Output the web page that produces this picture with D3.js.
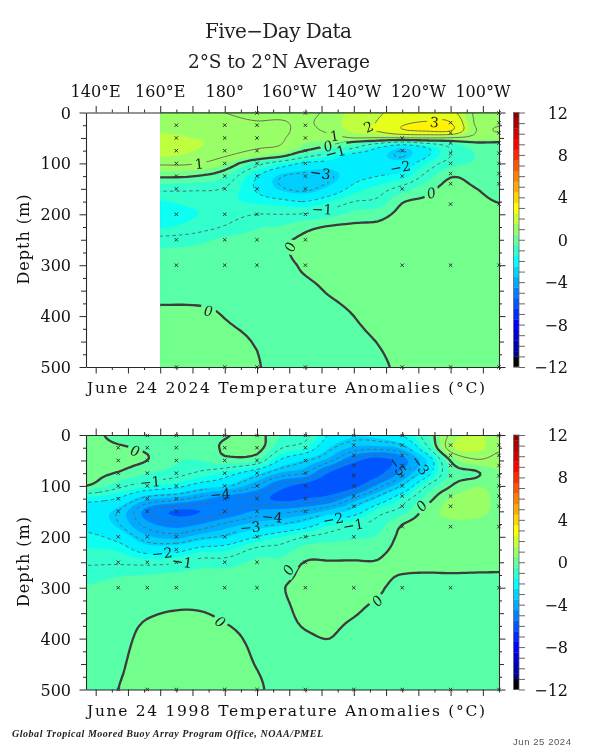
<!DOCTYPE html>
<html><head><meta charset="utf-8">
<script src="https://cdn.jsdelivr.net/npm/d3@7"></script>
<style>html,body{margin:0;background:#fff}svg{display:block;filter:blur(0.45px)}</style>
</head><body><div id="c"></div>
<script>
// ---- data ----
const lonTicks=[140,160,180,200,220,240,260];
const lonTickLabels=["140°E","160°E","180°","160°W","140°W","120°W","100°W"];
const depthTicks=[0,100,200,300,400,500];
const barTicks=[12,8,4,0,-4,-8,-12];

const lons1=[160,170,180,190,197.5,205,212.5,220,227.5,235,242.5,250,257.5,265];
const depths1=[0,20,35,50,60,70,85,100,125,150,175,200,225,250,275,300,350,400,450,500];
const field1=[
[1.1,1.2,1.4,1.65,1.75,1.7,1.55,1.1,.1,-.85,-1.55,-1.75,-1.55,-.8,-.4,-.3,-.12,.08,.15,.2],
[1.05,1.15,1.3,1.5,1.6,1.55,1.4,1.05,.02,-.9,-1.35,-1.55,-1.3,-.7,-.35,-.25,-.15,.12,.3,.3],
[1,1.1,1.2,1.3,1.3,1.25,1.05,.5,-.45,-1.05,-1.4,-1.25,-.95,-.4,-.3,-.25,-.1,-.01,.1,.2],
[.9,1.02,1.1,1.15,1.1,1.03,.55,-.7,-1.95,-2.1,-1.6,-1,-.55,-.3,-.2,-.2,-.15,-.1,-.03,.05],
[.85,1.05,1.1,1.05,1.02,.85,.15,-1.5,-2.95,-2.9,-1.8,-1,-.45,-.1,-.1,-.2,-.3,-.3,-.3,-.3],
[.85,.9,.85,.75,.5,.25,-.75,-2.15,-3.2,-3.15,-2,-.95,-.15,.1,.2,.1,-.15,-.25,-.3,-.3],
[1.15,1.3,1.15,.75,.3,-.3,-1.4,-2.35,-3.1,-2.6,-1.5,-.7,.05,.15,.2,.2,.05,-.2,-.3,-.3],
[1.7,1.7,1.65,1,-.25,-1,-2.4,-2.5,-2.3,-1.75,-1,-.35,.1,.15,.2,.2,.2,0,-.2,-.3],
[1.9,2.05,2.1,.95,-.85,-2.05,-2.6,-2.4,-2,-1.3,-.85,-.2,.1,.15,.2,.2,.25,.25,.02,-.1],
[2.4,2.85,2.9,.95,-1.4,-2.8,-3.05,-2.5,-1.75,-.75,-.05,.15,.2,.2,.2,.25,.25,.25,.2,.1],
[2.6,3.05,3.15,1,-.9,-2.1,-2.1,-1.45,-.8,-.2,.1,.2,.2,.2,.2,.25,.25,.25,.25,.25],
[2.3,3.02,3.1,.95,-.5,-.98,-1,-.7,-.05,.2,.25,.25,.25,.25,.25,.25,.25,.25,.25,.25],
[.9,.95,1.05,.8,-.1,-.4,-.5,-.45,-.2,.02,.15,.25,.25,.25,.25,.25,.25,.25,.25,.25],
[.75,.9,1.05,.7,-.1,-.3,-.35,-.35,-.3,-.2,-.02,.15,.2,.2,.2,.2,.2,.2,.2,.2]];

const lons2=[137,147,156,165,172.5,180,190,197.5,205,212.5,220,227.5,235,242.5,250,257.5,265];
const depths2=[0,25,50,75,100,125,150,175,200,225,250,275,300,350,400,450,500];
const field2=[
[.4,.4,.35,.2,0,-1.7,-2.4,-2.3,-1.8,-1.45,-1.1,-.7,-.45,-.3,-.2,-.2,-.2],
[-.3,.1,.2,-.05,-.8,-2.05,-3,-2.95,-2.3,-1.6,-1.1,-.55,-.35,-.2,-.15,-.08,0],
[-.4,-.1,0,-.5,-1.4,-3.3,-4.8,-4.3,-3.4,-2.4,-1.2,-.5,-.3,-.05,.15,.25,.25],
[-.3,-.35,-.45,-.75,-1.75,-3.7,-5.6,-4.8,-3.7,-2.3,-1.1,-.4,-.25,.03,.25,.3,.3],
[-.2,-.3,-.5,-1.15,-2.4,-4.3,-5.5,-4.5,-3.2,-1.75,-.75,-.35,-.2,.02,.3,.3,.3],
[-.05,.08,-.2,-1.6,-2.8,-4.9,-5.1,-3.9,-2.85,-1.6,-.75,-.3,-.15,-.08,.15,.3,.25],
[.2,.25,-.5,-2.6,-4,-5.2,-4.4,-3.3,-2,-.85,-.4,-.2,-.2,-.2,-.12,-.03,.12],
[-.5,-.95,-2.15,-3.6,-5.2,-5.7,-4.2,-3,-1.5,-.75,-.4,-.25,-.05,-.2,-.3,-.3,-.3],
[-.8,-1.4,-2.9,-4,-5.8,-5.5,-3.9,-2.5,-1,-.3,.02,.2,.3,.2,-.1,-.3,-.3],
[-2.1,-2.8,-3.8,-5.6,-6.2,-5.1,-3.3,-1.6,-.75,-.25,.03,.25,.3,.2,0,-.25,-.3],
[-2.7,-3.6,-5.2,-6.5,-5.8,-3.9,-2.5,-1.1,-.6,-.2,.03,.2,.3,.05,-.25,-.3,-.3],
[-2.6,-3.7,-5.9,-5.8,-4.3,-2.7,-1.3,-.75,-.45,-.15,.03,.15,.1,-.2,-.3,-.3,-.3],
[-2,-3.3,-4.9,-4.2,-2.9,-1.4,-.75,-.02,.15,.2,.25,-.02,-.25,-.35,-.35,-.35,-.35],
[-.6,-1.2,-2.8,-2.4,-1,-.3,.2,.3,.3,.3,.2,-.05,-.3,-.35,-.35,-.35,-.35],
[1.15,1.35,.05,-.4,-.02,.55,.65,.4,.35,.35,.3,-.05,-.35,-.35,-.35,-.35,-.35],
[1.55,1.7,.9,-.12,.45,.7,.65,.4,.35,.3,.2,-.05,-.3,-.35,-.35,-.35,-.35],
[1.3,1.1,.75,.45,.4,.4,.4,.35,.3,.25,.15,-.05,-.3,-.35,-.35,-.35,-.35]];

const moorings1=[
[165,[25,50,75,100,125,150,200,250,300,500]],
[180,[25,50,75,100,125,150,200,250,300,500]],
[190,[1,25,50,75,100,125,150,200,250,300,500]],
[205,[1,25,50,75,100,125,150,200,250,300,500]],
[235,[50,75,125,150,300,500]],
[250,[20,40,60,80,100,120,140,180,300,500]],
[265,[1,20,40,60,80,100,120,140,180,300,500]]];
const moorings2=[
[147,[25,50,75,100,125,150,200,250,300,500]],
[156,[1,25,50,75,100,125,150,200,250,300,500]],
[165,[1,25,50,75,100,125,150,200,225,250,300,500]],
[180,[1,25,50,75,100,125,150,200,250,300,500]],
[190,[1,25,50,75,100,125,150,200,250,300,500]],
[205,[1,25,50,75,100,125,150,200,250,300,500]],
[220,[1,20,40,60,80,100,120,140,200,300,500]],
[235,[1,20,40,60,80,100,120,140,180,300,500]],
[250,[20,40,60,80,120,140,180,300,500]],
[265,[1,20,40,60,80,100,120,140,180,300,500]]];

const contourLabels1=[
[172.1,101,"1",-6],[214,46,"1",-8],[212,66,"0",-20],[214.3,78,"−1",-15],[224.5,28,"2",-25],
[245,19,"3",5],[234.4,107,"−2",-10],[209.6,119,"−3",8],[210.2,190,"−1",3],
[244,158,"0",-15],[200.3,264,"0",-72],[174.9,390,"0",5]];
const contourLabels2=[
[152.2,31,"0",15],[156.9,92,"−1",-5],[178.6,116,"−4",-5],[166.8,249,"−1",8],[160.6,232,"−2",-5],
[187.9,181,"−3",-5],[194.7,161,"−4",5],[199.7,265,"0",-60],[178.6,367,"0",35],
[233.5,61,"−5",55],[240.6,59,"−3",55],[241,139,"0",-50],[213.6,165,"−2",-10],[219.8,177,"−1",-10],[227.3,326,"0",-50]];

const lineLevels1=[-3,-2,-1,0,1,2,3];
const lineLevels2=[-5,-4,-3,-2,-1,0,1];
const fillBreaks=[-12,-11,-10.5,-9.5,-8.5,-7.5,-6.5,-5.5,-4.5,-3.5,-2.8,-2,-1.5,-.5,0,.5,1.5,2,3,3.5,4.5,5.5,6.5,7.5,8.5,9.5,10.5,11.5];
const barBreaks=[-12,-11,-10.5,-9.5,-8.5,-7.5,-6.5,-5.5,-4.5,-3.5,-2.5,-1.5,-.5,.5,1.5,2.5,3.5,4.5,5.5,6.5,7.5,8.5,9.5,10.5,11.5,12];
const colorStops=[-11,-8,-2,3,9,12];
const colorValues=["#00007f","#0000ff","#00ffff","#ffff00","#ff0000","#7f0000"];

// ---- layout ----
const W=600,H=750,xL=86,xR=499,plotH=254.5;
const panels=[
 {top:112.5,lons:lons1,depths:depths1,field:field1,moor:moorings1,labels:contourLabels1,levels:lineLevels1,title:"June 24 2024 Temperature Anomalies (°C)"},
 {top:435,lons:lons2,depths:depths2,field:field2,moor:moorings2,labels:contourLabels2,levels:lineLevels2,title:"June 24 1998 Temperature Anomalies (°C)"}];
const SERIF='"DejaVu Serif",serif';
const ink="#2a2a2a";
const svg=d3.select("#c").append("svg").attr("width",W).attr("height",H);
const colorOf=d3.scaleLinear().domain(colorStops).range(colorValues).clamp(true);
const bandColor=(a,b)=>a<-11.5?"#000":colorOf((a+b)/2);

// Catmull-Rom drawing refinement of the read grid, so that contours are smooth
function cr(p0,p1,p2,p3,t){return .5*(2*p1+(p2-p0)*t+(2*p0-5*p1+4*p2-p3)*t*t+(3*p1-p0-3*p2+p3)*t*t*t);}
function refine(cols,k){
  const nx=cols.length,ny=cols[0].length,w=(nx-1)*k+1,h=(ny-1)*k+1,out=new Float64Array(w*h);
  const g=(i,j)=>cols[Math.max(0,Math.min(nx-1,i))][Math.max(0,Math.min(ny-1,j))];
  for(let fy=0;fy<h;fy++)for(let fx=0;fx<w;fx++){
    const i=Math.min(nx-2,Math.floor(fx/k)),j=Math.min(ny-2,Math.floor(fy/k)),tx=fx/k-i,ty=fy/k-j;
    const r=[-1,0,1,2].map(dj=>cr(g(i-1,j+dj),g(i,j+dj),g(i+1,j+dj),g(i+2,j+dj),tx));
    out[fy*w+fx]=cr(r[0],r[1],r[2],r[3],ty);
  }
  return {w,h,out};
}
const K=6;
panels.forEach((p,pi)=>{
  const x=d3.scaleLinear().domain([137,265]).range([xL,xR]);
  const y=d3.scaleLinear().domain([0,500]).range([p.top,p.top+plotH]);
  const ixLon=d3.scaleLinear().domain(d3.range(p.lons.length)).range(p.lons);
  const iyDep=d3.scaleLinear().domain(d3.range(p.depths.length)).range(p.depths);
  const r=refine(p.field,K);
  const path=d3.geoPath(d3.geoTransform({point(a,b){
    this.stream.point(x(ixLon((a-.5)/K)),y(iyDep((b-.5)/K)));}}));
  const gen=d3.contours().size([r.w,r.h]).smooth(true);
  const clipId="clip"+pi,maskId="gap"+pi;
  const x0=x(p.lons[0]);
  svg.append("clipPath").attr("id",clipId).append("rect").attr("x",x0).attr("y",p.top).attr("width",xR-x0).attr("height",plotH);
  const g=svg.append("g").attr("clip-path",`url(#${clipId})`);
  fillBreaks.forEach((t,i)=>{
    const next=i+1<fillBreaks.length?fillBreaks[i+1]:12;
    const geom=gen.contour(r.out,i===0?-100:t);
    g.append("path").attr("d",path(geom)).attr("fill",bandColor(t,next)).attr("stroke","none");
  });
  // gaps in the lines behind contour labels
  const mask=svg.append("mask").attr("id",maskId).attr("maskUnits","userSpaceOnUse").attr("x",0).attr("y",0).attr("width",W).attr("height",H);
  mask.append("rect").attr("width",W).attr("height",H).attr("fill","#fff");
  mask.selectAll("rect.g").data(p.labels).join("rect").attr("class","g")
    .attr("x",d=>-(d[2].length*5.5+2)).attr("y",-7.5).attr("width",d=>2*(d[2].length*5.5+2)).attr("height",15).attr("fill","#000")
    .attr("transform",d=>`translate(${x(d[0])},${y(d[1])}) rotate(${d[3]})`);
  const gl=g.append("g").attr("mask",`url(#${maskId})`);
  p.levels.forEach(l=>{
    gl.append("path").attr("d",path(gen.contour(r.out,l))).attr("fill","none")
      .attr("stroke",l===0?"#3c3c3c":l>0?"#6f6f55":"#4e6e72")
      .attr("stroke-width",l===0?2.3:1)
      .attr("stroke-dasharray",l<0?"3.5 3":null);
  });
  // mooring markers
  const mk=svg.append("g").attr("stroke","#333").attr("stroke-width",1).attr("fill","none");
  p.moor.forEach(([lon,ds])=>ds.forEach(d=>{
    const cx=x(lon),cy=y(d);
    mk.append("path").attr("d",`M${cx-1.7},${cy-1.7}L${cx+1.7},${cy+1.7}M${cx-1.7},${cy+1.7}L${cx+1.7},${cy-1.7}`);
  }));
  // contour labels
  svg.append("g").selectAll("text").data(p.labels).join("text")
    .attr("font-family",SERIF).attr("font-size",14).attr("fill","#222").attr("font-style",d=>d[2]==="0"?"italic":"normal")
    .attr("text-anchor","middle").attr("dominant-baseline","central")
    .attr("transform",d=>`translate(${x(d[0])},${y(d[1])}) rotate(${d[3]})`).text(d=>d[2]);
  // axes (D3 axis generators)
  const lonVals=d3.range(140,266,5), depMinor=d3.range(0,501,25);
  const ax=svg.append("g").attr("stroke",ink);
  const drawX=(yy,dir)=>{
    const a=(dir<0?d3.axisTop(x):d3.axisBottom(x)).tickValues(lonVals).tickFormat("").tickSizeOuter(0)
      .tickSizeInner(0);
    const gg=ax.append("g").attr("transform",`translate(0,${yy})`).call(a);
    gg.select(".domain").attr("stroke",ink).attr("stroke-width",1.1);
    gg.selectAll(".tick line").attr("stroke",ink).attr("y2",d=>dir*(d%10===0?6.5:3));
  };
  drawX(p.top,-1); drawX(p.top+plotH,1);
  const drawY=(xx,dir)=>{
    const a=(dir<0?d3.axisLeft(y):d3.axisRight(y)).tickValues(depMinor).tickFormat("").tickSizeOuter(0).tickSizeInner(0);
    const gg=ax.append("g").attr("transform",`translate(${xx},0)`).call(a);
    gg.select(".domain").attr("stroke",ink).attr("stroke-width",1.1);
    gg.selectAll(".tick line").attr("stroke",ink).attr("x2",d=>dir*(d%100===0?6.5:d%50===0?5:3));
  };
  drawY(xL,-1); drawY(xR,1);
  // depth labels
  svg.append("g").selectAll("text").data(depthTicks).join("text")
    .attr("x",71).attr("y",d=>y(d)+6).attr("text-anchor","end")
    .attr("font-family",SERIF).attr("font-size",16).attr("fill","#111").text(d=>d);
  svg.append("text").attr("transform",`translate(29,${p.top+127}) rotate(-90)`).attr("text-anchor","middle")
    .attr("font-family",SERIF).attr("font-size",16).attr("fill","#111")
    .attr("textLength",90).attr("lengthAdjust","spacing").text("Depth (m)");
  svg.append("text").attr("x",87).attr("y",p.top+plotH+26).attr("font-family",SERIF).attr("font-size",15.5).attr("fill","#111")
    .attr("textLength",398).attr("lengthAdjust","spacing").text(p.title);
  // colour bar
  const by=d3.scaleLinear().domain([-12,12]).range([p.top+plotH,p.top]);
  const bar=svg.append("g");
  bar.selectAll("rect").data(d3.pairs(barBreaks)).join("rect")
    .attr("x",513.5).attr("width",5.5).attr("y",d=>by(d[1])).attr("height",d=>by(d[0])-by(d[1])+.3)
    .attr("fill",d=>bandColor(d[0],d[1]));
  bar.append("rect").attr("x",513.5).attr("y",p.top).attr("width",5.5).attr("height",plotH).attr("fill","none").attr("stroke","#666").attr("stroke-width",.8);
  const barAx=d3.axisRight(by).tickValues(d3.range(-12,13)).tickFormat("").tickSizeInner(6).tickSizeOuter(0);
  const bg=bar.append("g").attr("transform","translate(519,0)").call(barAx);
  bg.select(".domain").remove();
  bg.selectAll(".tick line").attr("stroke","#555").attr("stroke-width",.9);
  bar.append("g").selectAll("text").data(barTicks).join("text")
    .attr("x",568).attr("y",d=>by(d)+6).attr("text-anchor","end")
    .attr("font-family",SERIF).attr("font-size",16).attr("fill","#111").text(d=>d<0?"−"+(-d):d);
  if(pi===0){
    svg.append("g").selectAll("text").data(lonTicks).join("text")
      .attr("x",d=>x(d)).attr("y",96.5).attr("text-anchor","middle")
      .attr("font-family",SERIF).attr("font-size",16).attr("fill","#111").text((d,i)=>lonTickLabels[i]);
  }
});
svg.append("text").attr("x",278.5).attr("y",38).attr("text-anchor","middle").attr("font-family",SERIF).attr("font-size",20).attr("fill","#222")
  .attr("textLength",147).attr("lengthAdjust","spacing").text("Five−Day Data");
svg.append("text").attr("x",279).attr("y",68).attr("text-anchor","middle").attr("font-family",SERIF).attr("font-size",18.5).attr("fill","#222")
  .attr("textLength",182).attr("lengthAdjust","spacing").text("2°S to 2°N Average");
svg.append("text").attr("x",12).attr("y",737).attr("font-family",'"Liberation Serif",serif').attr("font-size",10).attr("font-style","italic").attr("font-weight","bold").attr("fill","#222")
  .attr("textLength",311).attr("lengthAdjust","spacing").text("Global Tropical Moored Buoy Array Program Office, NOAA/PMEL");
svg.append("text").attr("x",513).attr("y",745).attr("font-family",'"Liberation Sans",sans-serif').attr("font-size",9.5).attr("fill","#555")
  .attr("textLength",58).attr("lengthAdjust","spacing").text("Jun 25 2024");
</script></body></html>
